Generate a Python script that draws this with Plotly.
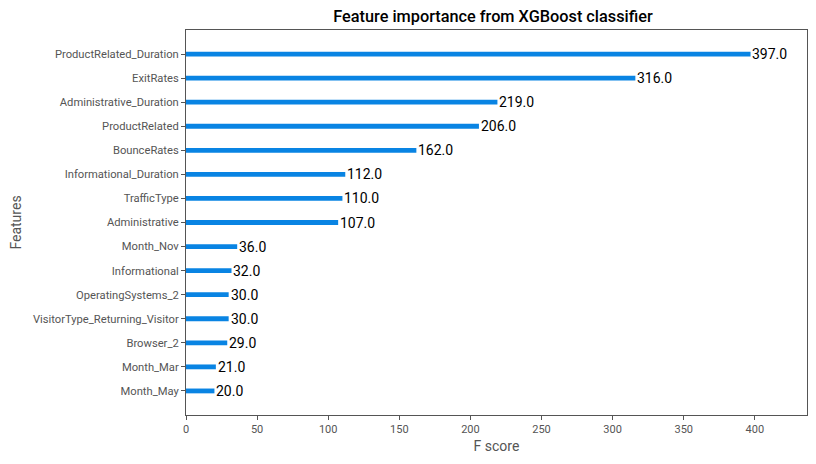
import plotly.graph_objects as go

features = ["Month_May", "Month_Mar", "Browser_2", "VisitorType_Returning_Visitor",
            "OperatingSystems_2", "Informational", "Month_Nov", "Administrative",
            "TrafficType", "Informational_Duration", "BounceRates", "ProductRelated",
            "Administrative_Duration", "ExitRates", "ProductRelated_Duration"]
scores = [20.0, 21.0, 29.0, 30.0, 30.0, 32.0, 36.0, 107.0, 110.0, 112.0, 162.0,
          206.0, 219.0, 316.0, 397.0]
x_ticks = [0, 50, 100, 150, 200, 250, 300, 350, 400]

pos = list(range(len(features)))
BLUE = "#0984e3"
GRAY = "#555555"

fig = go.Figure()
fig.add_trace(go.Bar(
    x=scores, y=pos, orientation="h", width=0.2,
    marker=dict(color=BLUE, line=dict(width=0)),
    hoverinfo="skip",
))

for p, s in zip(pos, scores):
    fig.add_annotation(x=s + 1, y=p, text=f"{s:.1f}", showarrow=False,
                       xanchor="left", yanchor="middle", xshift=-1.5,
                       font=dict(family="Roboto", size=14, color="black"))

fig.update_layout(
    width=816, height=464,
    margin=dict(l=186, r=9, t=30, b=49),
    paper_bgcolor="white", plot_bgcolor="white",
    showlegend=False,
    title=dict(text="Feature importance from XGBoost classifier",
               x=493 / 816, xanchor="center",
               y=1 - 16 / 464, yanchor="middle",
               font=dict(family="Roboto", size=16.3, color="black", weight=500)),
    font=dict(family="Roboto", color=GRAY),
)
fig.update_xaxes(
    range=[0, max(scores) * 1.1], tickvals=x_ticks,
    ticktext=[str(v) for v in x_ticks],
    showgrid=False, zeroline=False,
    showline=True, mirror=True, linecolor=GRAY, linewidth=1,
    ticks="outside", ticklen=4, tickcolor=GRAY,
    tickfont=dict(family="Roboto", size=11, color=GRAY),
    title=dict(text="F score", font=dict(family="Roboto", size=14, color=GRAY), standoff=5),
)
fig.update_yaxes(
    range=[-1, len(features)], tickvals=pos, ticktext=features,
    showgrid=False, zeroline=False,
    showline=True, mirror=True, linecolor=GRAY, linewidth=1,
    ticks="outside", ticklen=4, tickcolor=GRAY,
    tickfont=dict(family="Roboto", size=11.2, color=GRAY),
    title=dict(text="Features", font=dict(family="Roboto", size=14, color=GRAY), standoff=8),
)

fig.write_html("out.html")
